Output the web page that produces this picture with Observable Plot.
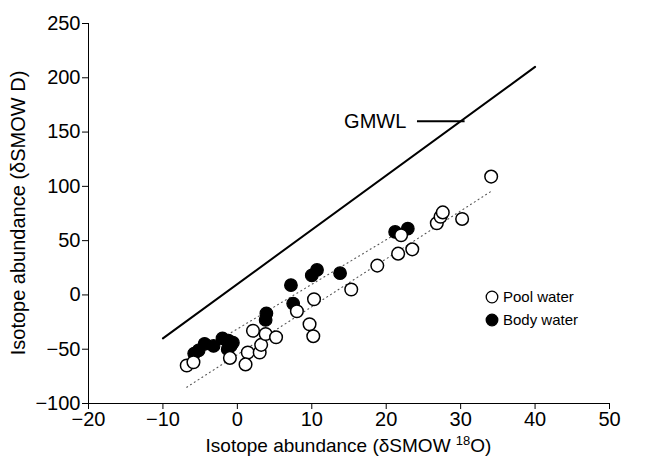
<!DOCTYPE html>
<html>
<head>
<meta charset="utf-8">
<script src="https://cdn.jsdelivr.net/npm/d3@7"></script>
<script src="https://cdn.jsdelivr.net/npm/@observablehq/plot@0.6"></script>
<style>
  body { margin: 0; background: white; }
  #chart { position: relative; width: 647px; height: 463px; }
</style>
</head>
<body>
<div id="chart"></div>
<script>
// Pool water (open circles)
const poolX = [-6.8, -5.9, -1.0, 1.4, 1.1, 2.1, 3.0, 3.2, 3.8, 5.2, 8.0, 10.3, 9.7, 10.2, 15.3, 18.8, 21.6, 23.5, 22.0, 26.8, 27.3, 27.6, 30.2, 34.1];
const poolY = [-65, -62, -58, -53, -64, -33, -53, -46, -36, -39, -15, -4, -27, -38, 5, 27, 38, 42, 55, 66, 72, 76, 70, 109];
// Body water (filled circles)
const bodyX = [-5.8, -5.2, -4.4, -3.2, -2.0, -1.2, -0.9, -1.3, -0.6, 3.9, 3.8, 7.2, 7.5, 10.0, 10.7, 13.8, 21.2, 22.9];
const bodyY = [-54, -51, -45, -47, -40, -42, -47, -50, -44, -17, -23, 9, -8, 18, 23, 20, 58, 61];
// Lines: GMWL and the two fitted (dotted) lines, endpoints
const gmwlX = [-10, 40];
const gmwlY = [-40, 210];
const poolFitX = [-6.8, 34];
const poolFitY = [-85, 95];
const bodyFitX = [-6, 21.5];
const bodyFitY = [-56, 57];
// Axis ticks
const xTicks = [-20, -10, 0, 10, 20, 30, 40, 50];
const yTicks = [-100, -50, 0, 50, 100, 150, 200, 250];
const legendLabels = ["Pool water", "Body water"];

const zip = (xs, ys) => xs.map((x, i) => ({x, y: ys[i]}));
const pool = zip(poolX, poolY);
const body = zip(bodyX, bodyY);
const gmwl = zip(gmwlX, gmwlY);
const poolFit = zip(poolFitX, poolFitY);
const bodyFit = zip(bodyFitX, bodyFitY);

const font = "'Liberation Sans', Arial, Helvetica, sans-serif";

const plot = Plot.plot({
  width: 647,
  height: 463,
  marginLeft: 88,
  marginRight: 38,
  marginTop: 23,
  marginBottom: 60,
  style: {fontFamily: font, fontSize: "20px", color: "black", background: "white"},
  x: {domain: [-20, 50]},
  y: {domain: [-100, 250]},
  marks: [
    Plot.axisX({ticks: xTicks, tickSize: 6, tickPadding: 2, fontSize: 20, label: null}),
    Plot.axisY({ticks: yTicks, tickSize: 6, tickPadding: 2, fontSize: 20, label: null}),
    Plot.ruleX([-20], {stroke: "black", strokeWidth: 1}),
    Plot.ruleY([-100], {stroke: "black", strokeWidth: 1}),
    Plot.line(gmwl, {x: "x", y: "y", stroke: "black", strokeWidth: 2}),
    Plot.line(poolFit, {x: "x", y: "y", stroke: "#555", strokeWidth: 1.1, strokeDasharray: "1,3.5"}),
    Plot.line(bodyFit, {x: "x", y: "y", stroke: "#555", strokeWidth: 1.1, strokeDasharray: "1,3.5"}),
    Plot.dot(body, {x: "x", y: "y", r: 6.3, fill: "black", stroke: "black", strokeWidth: 1.2}),
    Plot.dot(pool, {x: "x", y: "y", r: 6.3, fill: "white", stroke: "black", strokeWidth: 1.5}),
    Plot.text(["GMWL"], {x: 22.7, y: 160, text: d => d, textAnchor: "end", fontSize: 20, fill: "black"}),
    Plot.ruleY([160], {x1: 24.2, x2: 30.6, stroke: "black", strokeWidth: 2})
  ]
});

document.getElementById("chart").appendChild(plot);

const svg = d3.select(plot);
// y axis label
svg.append("text")
  .attr("transform", `translate(25,${(23 + 403) / 2}) rotate(-90)`)
  .attr("text-anchor", "middle")
  .attr("font-family", font)
  .attr("font-size", 20)
  .attr("fill", "black")
  .text("Isotope abundance (δSMOW D)");

// x axis label with superscript
const xl = svg.append("text")
  .attr("x", (88 + 609) / 2)
  .attr("y", 452)
  .attr("text-anchor", "middle")
  .attr("font-family", font)
  .attr("font-size", 19)
  .attr("fill", "black");
xl.append("tspan").text("Isotope abundance (δSMOW ");
xl.append("tspan").attr("font-size", 13).attr("dy", -7).text("18");
xl.append("tspan").attr("dy", 7).text("O)");

// legend
const lg = svg.append("g").attr("transform", "translate(492,297)");
legendLabels.forEach((lab, i) => {
  const row = lg.append("g").attr("transform", `translate(0,${i * 23})`);
  row.append("circle").attr("r", 5.8)
    .attr("fill", i === 0 ? "white" : "black")
    .attr("stroke", "black").attr("stroke-width", 1.3);
  row.append("text").attr("x", 11).attr("dy", "0.36em")
    .attr("text-anchor", "start")
    .attr("font-family", font).attr("font-size", 15).attr("fill", "black").text(lab);
});
</script>
</body>
</html>
